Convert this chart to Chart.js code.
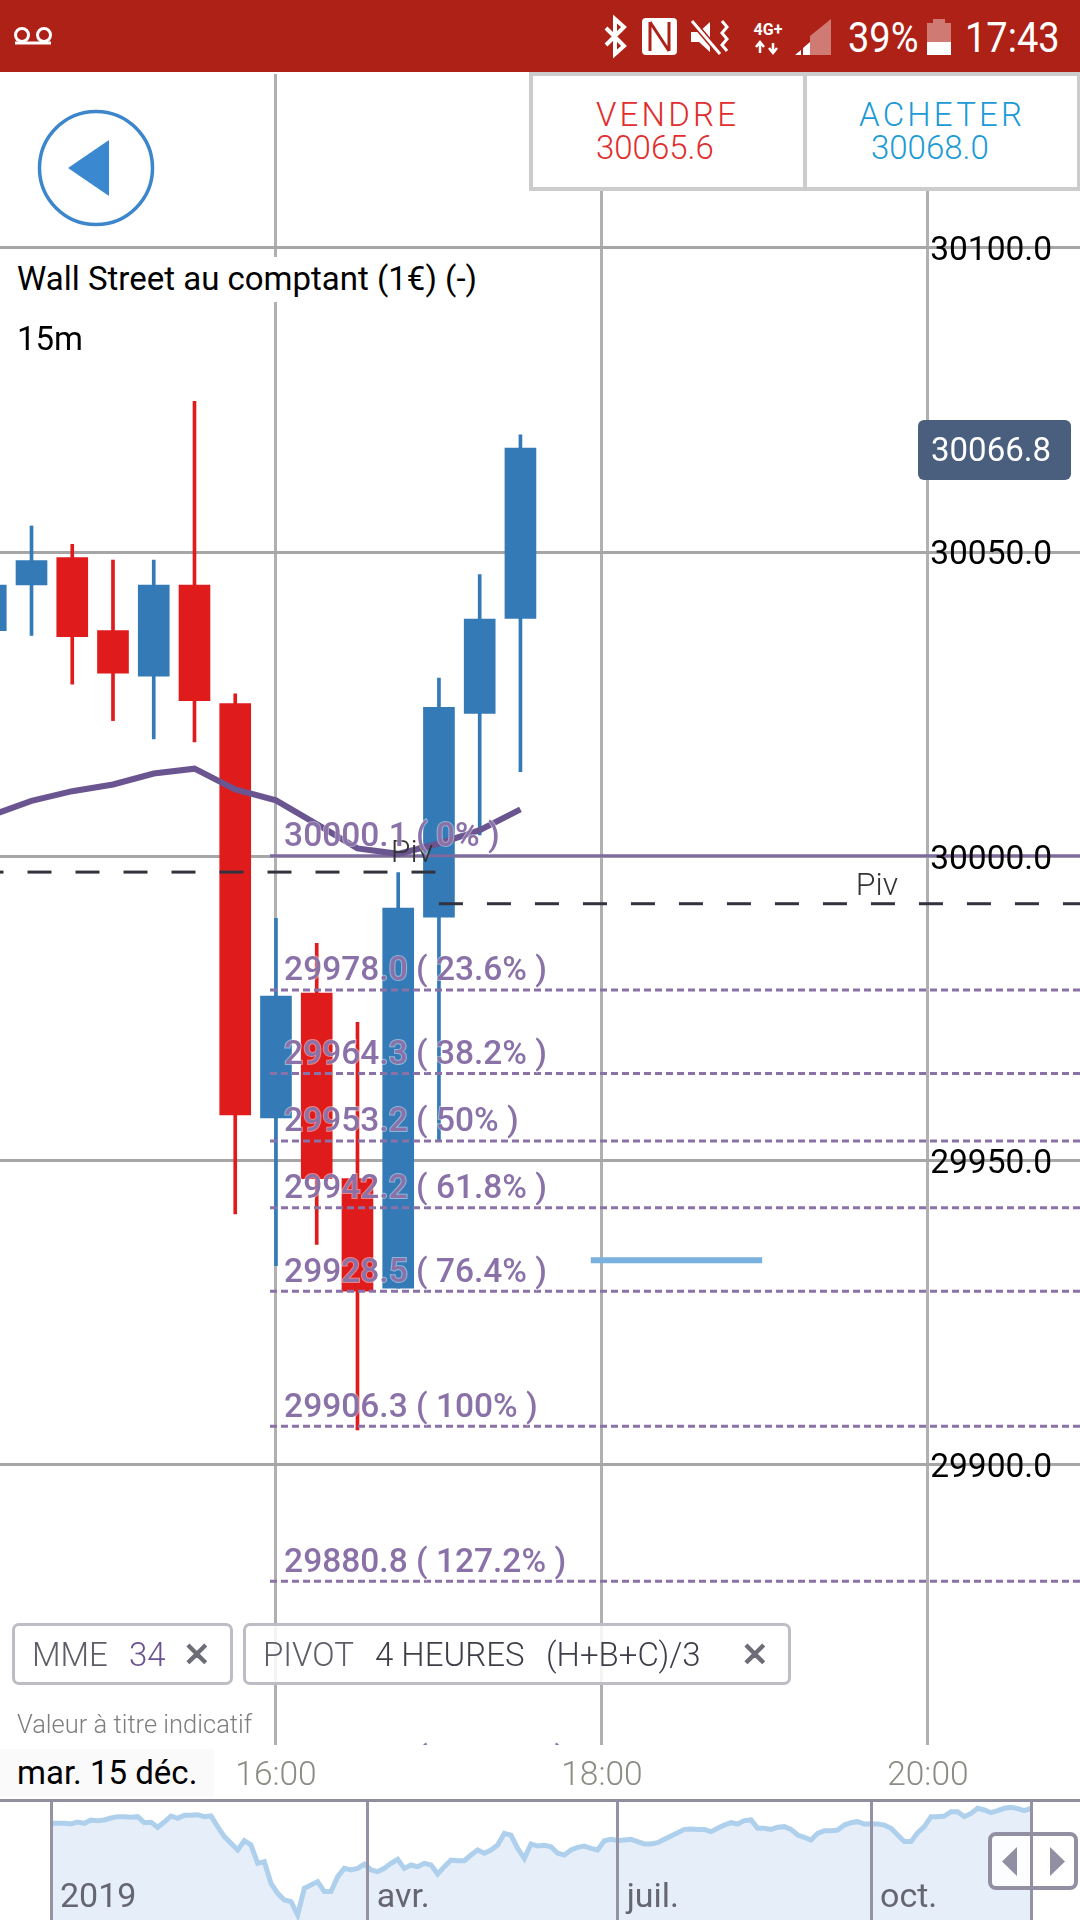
<!DOCTYPE html>
<html>
<head>
<meta charset="utf-8">
<title>Wall Street au comptant</title>
<script src="https://cdn.jsdelivr.net/npm/chart.js@4/dist/chart.umd.min.js"></script>
<style>
  html, body { margin: 0; padding: 0; background: #fff; }
  body { width: 1080px; height: 1920px; position: relative; overflow: hidden; font-family: Roboto, sans-serif; }
  canvas { position: absolute; left: 0; display: block; }
  .abs { position: absolute; white-space: nowrap; }
  .statusbar { left: 0; top: 0; width: 1080px; height: 72px; background: #ae2116; color: #fff; }
  .trade { left: 529px; top: 72px; width: 551px; height: 119px; box-sizing: border-box; border: 4px solid #ccc; border-right-width: 3px; background: #fff; }
  .chip { box-sizing: border-box; height: 62px; top: 1623px; border: 3px solid #bdbdc5; border-radius: 7px; background: rgba(255,255,255,0.86); }
  .chipText { top: 1635px; font-size: 33px; line-height: 40px; color: #5e5e68; font-weight: 300; }
</style>
</head>
<body>
<canvas id="mainChart" width="1080" height="1920" style="top:0;width:1080px;height:1920px"></canvas>
<canvas id="navChart" width="1080" height="120" style="top:1800px;width:1080px;height:120px"></canvas>

<!-- status bar -->
<div class="abs statusbar"></div>
<svg class="abs" style="left:0;top:0" width="1080" height="72">
  <g fill="none" stroke="#fff" stroke-width="3">
    <circle cx="22" cy="35" r="6.5"/><circle cx="44" cy="35" r="6.5"/><path d="M15 43h36"/>
    <path d="M606 28l18 18-9 8V19l9 8-18 18" stroke-width="4"/>
  </g>
  <rect x="642" y="18" width="35" height="37" rx="4" fill="#fff"/>
  <path d="M650 22v29M650 22l19 29M669 22v29" stroke="#ae2116" stroke-width="3" fill="none"/>
  <path d="M691 32h8l11-10v30l-11-10h-8z" fill="#fff"/>
  <path d="M692 21l28 33" stroke="#ae2116" stroke-width="6"/><path d="M692 21l28 33" stroke="#fff" stroke-width="3"/>
  <path d="M722 21l5 6-5 6 5 6-5 6 5 6" stroke="#fff" stroke-width="3" fill="none"/>
  <path d="M810 55V36l21-17v36z" fill="#cf7a72"/>
  <path d="M795 55l6-5v5zM803 48l7-6v13h-7z" fill="#fff"/>
  <path d="M760 53v-9m-4 4l4-5 4 5M773 43v10m-4-4l4 5 4-5" transform="rotate(180 766.5 48)" stroke="#fff" stroke-width="2.5" fill="none"/>
  <rect x="927" y="23" width="24" height="32" fill="#cf7a72"/><rect x="933" y="19" width="12" height="5" fill="#cf7a72"/>
  <rect x="927" y="42" width="24" height="13" fill="#fff"/>
</svg>
<div class="abs" style="left:748px;top:20px;width:40px;text-align:center;color:#fff;font-size:16px;line-height:20px;font-weight:700">4G+</div>
<div class="abs" style="left:848px;top:14px;color:#fff;font-size:38px;line-height:46px;font-weight:400;transform:scaleY(1.12)">39%</div>
<div class="abs" style="left:965px;top:14px;color:#fff;font-size:38px;line-height:46px;font-weight:400;transform:scaleY(1.12)">17:43</div>

<!-- sell / buy panel -->
<div class="abs trade"></div>
<div class="abs" style="left:803px;top:72px;width:4px;height:119px;background:#ccc"></div>
<div class="abs" style="left:596px;top:95px;font-size:33px;line-height:40px;font-weight:300;letter-spacing:3.2px;color:#e12d2d">VENDRE</div>
<div class="abs" style="left:596px;top:128px;font-size:33px;line-height:40px;font-weight:300;color:#e12d2d">30065.6</div>
<div class="abs" style="left:859px;top:95px;font-size:33px;line-height:40px;font-weight:300;letter-spacing:3.2px;color:#1c9ad6">ACHETER</div>
<div class="abs" style="left:871px;top:128px;font-size:33px;line-height:40px;font-weight:300;color:#1c9ad6">30068.0</div>

<!-- back button -->
<svg class="abs" style="left:30px;top:102px" width="132" height="132">
  <circle cx="66" cy="66" r="56.5" fill="#fff" stroke="#3d86cc" stroke-width="3.5"/>
  <path d="M79 38v56L38 66z" fill="#3a88d0"/>
</svg>

<div class="abs" style="left:0;top:257px;height:45px;width:480px;background:#fff"></div>
<div class="abs" style="left:17px;top:258px;font-size:33px;line-height:42px;color:#000">Wall Street au comptant (1€) (-)</div>
<div class="abs" style="left:17px;top:318px;font-size:33px;line-height:42px;color:#000">15m</div>

<!-- indicator chips -->
<div class="abs chip" style="left:12px;width:221px"></div>
<div class="abs chipText" style="left:32px">MME</div>
<div class="abs chipText" style="left:129px;color:#6a5290">34</div>
<div class="abs chipText" style="left:183px;font-weight:900;color:#6d6d78">✕</div>
<div class="abs chip" style="left:243px;width:548px"></div>
<div class="abs chipText" style="left:263px">PIVOT</div>
<div class="abs chipText" style="left:375px;color:#3e3e48">4 HEURES</div>
<div class="abs chipText" style="left:546px;color:#3e3e48">(H+B+C)/3</div>
<div class="abs chipText" style="left:741px;font-weight:900;color:#6d6d78">✕</div>
<div class="abs" style="left:17px;top:1709px;font-size:25.5px;line-height:30px;font-weight:300;color:#7e7e7e">Valeur à titre indicatif</div>

<div class="abs" style="left:0;top:1749px;width:214px;height:48px;background:#fafafa"></div>
<div class="abs" style="left:17px;top:1753px;font-size:33px;line-height:40px;color:#000">mar. 15 déc.</div>

<!-- navigator frame -->
<div class="abs" style="left:0;top:1799px;width:1080px;height:3px;background:#918ea0"></div>
<div class="abs" style="left:988px;top:1832px;width:90px;height:58px;box-sizing:border-box;border:4px solid #928fa3;border-radius:8px;background:rgba(255,255,255,0.88)"></div>
<div class="abs" style="left:1030px;top:1832px;width:3px;height:58px;background:#928fa3"></div>
<svg class="abs" style="left:988px;top:1832px" width="90" height="58">
  <path d="M29 15v29L14 29.5zM62 15v29l15-14.5z" fill="#928fa3"/>
</svg>

<script>
// === Data ===
const candleTimes = [855, 870, 885, 900, 915, 930, 945, 960, 975, 990, 1005, 1020, 1035, 1050];
const opens = [30037.1, 30044.6, 30049.1, 30037.1, 30029.6, 30044.6, 30025.1, 29957.0, 29977.5, 29947.0, 29929.0, 29990.0, 30023.5, 30039.1];
const closes = [30044.6, 30048.6, 30036.1, 30030.1, 30044.6, 30025.6, 29957.5, 29977.0, 29947.0, 29928.5, 29991.5, 30024.5, 30039.0, 30067.1];
const highs = [30044.6, 30054.3, 30051.3, 30048.7, 30048.7, 30074.8, 30026.7, 29989.8, 29985.7, 29972.7, 29997.3, 30029.3, 30046.3, 30069.3];
const lows = [30037.1, 30036.3, 30028.3, 30022.3, 30019.3, 30018.8, 29941.2, 29932.7, 29936.2, 29905.7, 29929.0, 29953.2, 30003.5, 30013.9];
const emaValues = [30006.7, 30009.1, 30010.7, 30011.8, 30013.6, 30014.4, 30011.0, 30009.2, 30005.3, 30001.3, 30000.4, 30002.1, 30004.3, 30007.7];

const fibValues = [30000.1, 29978.0, 29964.3, 29953.2, 29942.2, 29928.5, 29906.3, 29880.8, 29848.3];
const fibPercents = ["0", "23.6", "38.2", "50", "61.8", "76.4", "100", "127.2", "161.8"];

const pivotPrev = 29997.4;
const pivotCurr = 29992.2;
const markerPrice = 29933.6;
const lastPrice = 30066.8;

const timeTicks = [960, 1080, 1200];
const navPrices = [
  28520, 28520, 28520, 28450, 28660, 28520, 28880, 28810, 28880, 29090,
  29230, 29230, 29160, 29230, 28590, 28630, 28100, 28660, 29300, 29050,
  29370, 29370, 29440, 29230, 29300, 28170, 27110, 26400, 25690, 26680,
  26220, 24270, 24450, 22150, 21090, 20380, 20200, 18790, 21620, 21970,
  22330, 21270, 21270, 22860, 23740, 23570, 23740, 24200, 23570, 23390,
  23740, 24270, 24700, 23740, 24100, 23920, 24270, 24100, 23140, 23920,
  24630, 24560, 24560, 25160, 25690, 25340, 25690, 26220, 27460, 27280,
  25870, 24800, 26330, 26110, 26190, 26040, 25340, 25160, 25690, 25970,
  26110, 25870, 25690, 26680, 26820, 26680, 26750, 26820, 26580, 26330,
  26330, 26470, 26820, 27180, 27530, 27880, 27920, 27880, 27880, 27640,
  27990, 28340, 28590, 28450, 28810, 28880, 27990, 27990, 27880, 28100,
  28170, 27880, 27280, 27040, 26750, 27460, 27740, 27740, 27810, 28340,
  28590, 28700, 28450, 28450, 28450, 28340, 27990, 27280, 26580, 26580,
  27530, 28170, 29230, 29230, 29300, 29760, 29760, 29230, 29580, 30120,
  29940, 29650, 29870, 30120, 30220, 30080, 29870, 30120
];
const navTicks = [0, 47.5, 85, 123, 147];
const navLabels = ["2019", "avr.", "juil.", "oct."];

// === Main chart ===
const xMin = 858.4, xMax = 1256;
const blue = "#337ab7", red = "#e01b1c", purple = "#8a72a8";

function fmtTime(m) {
  return String(Math.floor(m / 60)).padStart(2, "0") + ":" + String(m % 60).padStart(2, "0");
}

const candleColors = opens.map((o, i) => (closes[i] >= o ? blue : red));

const fibDatasets = fibValues.map((v, i) => ({
  type: "line",
  data: [{ x: 957.8, y: v }, { x: xMax, y: v }],
  borderColor: i === 0 ? "#7e6a9e" : purple,
  borderWidth: 3,
  borderDash: i === 0 ? [] : [7, 4],
  pointRadius: 0,
  order: 3,
}));

// fib labels, pivot labels and the current price tag
const overlayPlugin = {
  id: "overlay",
  afterDatasetsDraw(chart) {
    const { ctx, chartArea, scales } = chart;
    const y = scales.y, x = scales.x;
    ctx.save();
    ctx.beginPath();
    ctx.rect(chartArea.left, chartArea.top, chartArea.width, chartArea.height);
    ctx.clip();

    ctx.textAlign = "center";
    ctx.textBaseline = "middle";
    ctx.fillStyle = "#333";
    ctx.font = "300 32px Roboto";
    ctx.fillText("Piv", 412, y.getPixelForValue(pivotPrev) - 18);
    ctx.fillText("Piv", 877, y.getPixelForValue(pivotCurr) - 17);

    ctx.textAlign = "left";
    ctx.font = "500 33.5px Roboto";
    ctx.lineWidth = 2;
    fibValues.forEach((v, i) => {
      const label = `${v.toFixed(1)} ( ${fibPercents[i]}% )`;
      const py = y.getPixelForValue(v) - 18;
      ctx.strokeStyle = "rgba(255,255,255,0.45)";
      ctx.strokeText(label, x.getPixelForValue(963), py);
      ctx.fillStyle = purple;
      ctx.fillText(label, x.getPixelForValue(963), py);
    });

    const py = y.getPixelForValue(lastPrice);
    ctx.fillStyle = "#4a5e7e";
    ctx.beginPath();
    ctx.roundRect(918, py - 30, 153, 60, 6);
    ctx.fill();
    ctx.fillStyle = "#fff";
    ctx.textAlign = "center";
    ctx.font = "33px Roboto";
    ctx.fillText(lastPrice.toFixed(1), 991, py + 3);
    ctx.restore();
  },
};

new Chart(document.getElementById("mainChart"), {
  type: "bar",
  data: {
    datasets: [
      {
        type: "line",
        data: candleTimes.map((t, i) => ({ x: t, y: emaValues[i] })),
        borderColor: "#6b5590",
        borderWidth: 6,
        pointRadius: 0,
        order: 1,
      },
      {
        type: "line",
        data: [{ x: 850.85, y: pivotPrev }, { x: 1020, y: pivotPrev }],
        borderColor: "#333340",
        borderWidth: 3,
        borderDash: [24, 24],
        pointRadius: 0,
        order: 2,
      },
      {
        type: "line",
        data: [{ x: 1020, y: pivotCurr }, { x: xMax, y: pivotCurr }],
        borderColor: "#333340",
        borderWidth: 3,
        borderDash: [24, 24],
        pointRadius: 0,
        order: 2,
      },
      {
        type: "line",
        data: [{ x: 1075.9, y: markerPrice }, { x: 1139, y: markerPrice }],
        borderColor: "#7ab0de",
        borderWidth: 6,
        pointRadius: 0,
        order: 3,
      },
      ...fibDatasets,
      {
        data: candleTimes.map((t, i) => ({ x: t, y: [opens[i], closes[i]] })),
        backgroundColor: candleColors,
        barThickness: 31,
        grouped: false,
        order: 5,
      },
      {
        data: candleTimes.map((t, i) => ({ x: t, y: [lows[i], highs[i]] })),
        backgroundColor: candleColors,
        barThickness: 3,
        grouped: false,
        order: 6,
      },
    ],
  },
  options: {
    responsive: false,
    animation: false,
    devicePixelRatio: 1,
    layout: { padding: { top: 74, bottom: 115, left: 0, right: 0 } },
    plugins: { legend: { display: false }, tooltip: { enabled: false } },
    scales: {
      x: {
        type: "linear",
        min: xMin,
        max: xMax,
        offset: false,
        afterBuildTicks(scale) {
          scale.ticks = timeTicks.map((v) => ({ value: v }));
        },
        afterFit(scale) {
          scale.height = 60;
        },
        grid: { offset: false, color: "#b0b0b0", lineWidth: 3, drawTicks: false },
        border: { display: false },
        ticks: {
          autoSkip: false,
          maxRotation: 0,
          padding: 12,
          color: "#8c8c84",
          font: { family: "Roboto", size: 33.5, weight: "300" },
          callback: (v) => fmtTime(v),
        },
      },
      y: {
        position: "right",
        min: 29853.9,
        max: 30128.6,
        afterFit(scale) {
          scale.width = 0;
        },
        grid: { color: "#a6a6a6", lineWidth: 3, drawTicks: false },
        border: { display: false },
        ticks: {
          mirror: true,
          padding: -28,
          stepSize: 50,
          includeBounds: false,
          labelOffset: 4,
          z: 1,
          color: "#000",
          font: { family: "Roboto", size: 33.5 },
          callback: (v) => v.toFixed(1),
        },
      },
    },
  },
  plugins: [overlayPlugin],
});

// === Navigator ===
const navLabelPlugin = {
  id: "navLabels",
  afterDraw(chart) {
    const { ctx, scales } = chart;
    ctx.save();
    ctx.fillStyle = "#666672";
    ctx.font = "34px Roboto";
    ctx.textBaseline = "middle";
    navLabels.forEach((label, i) => {
      ctx.fillText(label, scales.x.getPixelForValue(navTicks[i]) + 9, 98);
    });
    ctx.restore();
  },
};

new Chart(document.getElementById("navChart"), {
  type: "line",
  data: {
    datasets: [
      {
        data: navPrices.map((p, i) => ({ x: i, y: p })),
        borderColor: "#aed0ec",
        backgroundColor: "#e6eff9",
        borderWidth: 5,
        pointRadius: 0,
        fill: "start",
      },
    ],
  },
  options: {
    responsive: false,
    animation: false,
    devicePixelRatio: 1,
    layout: { padding: 0 },
    plugins: { legend: { display: false }, tooltip: { enabled: false } },
    scales: {
      x: {
        type: "linear",
        min: -7.65,
        max: 154.35,
        afterBuildTicks(scale) {
          scale.ticks = navTicks.map((v) => ({ value: v }));
        },
        afterFit(scale) {
          scale.height = 0;
        },
        grid: { color: "#9592a5", lineWidth: 3, drawTicks: false, z: 1 },
        border: { display: false },
        ticks: { display: false },
      },
      y: {
        display: false,
        min: 18256,
        max: 31000,
      },
    },
  },
  plugins: [navLabelPlugin],
});
</script>
</body>
</html>
